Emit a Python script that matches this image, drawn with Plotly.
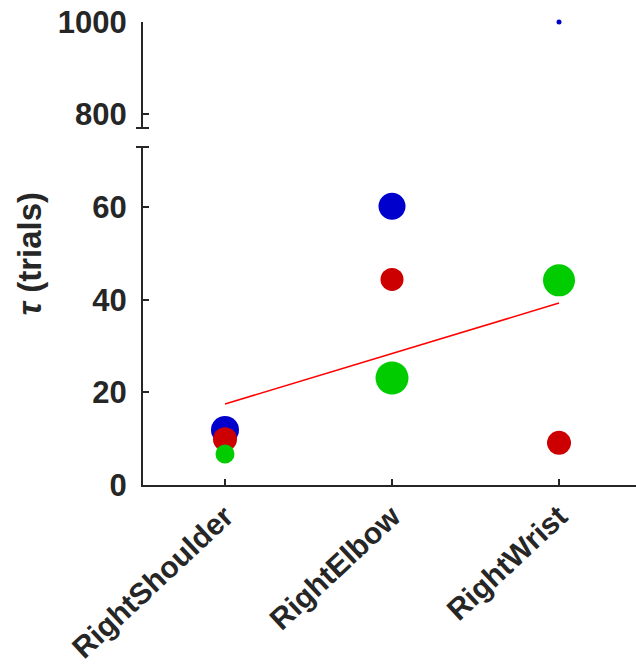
import plotly.graph_objects as go

joints = ["RightShoulder", "RightElbow", "RightWrist"]

blue_tau = [11.9, 60.2, 1000.0]
red_tau = [9.9, 44.4, 9.1]
green_tau = [6.7, 23.1, 44.2]

blue_size = [28, 27, 5]
red_size = [24, 23, 24]
green_size = [19, 33, 32]

trend_x = ["RightShoulder", "RightWrist"]
trend_y = [17.5, 39.3]

low_ticks = [0, 20, 40, 60]
high_ticks = [800, 1000]

AX = "#262626"
FONT = dict(family="Liberation Sans, Arial, sans-serif", size=31, color=AX, weight="bold")
XFONT = dict(family="Liberation Sans, Arial, sans-serif", size=30, color=AX, weight="bold")
TFONT = dict(family="Liberation Sans, Arial, sans-serif", size=33, color=AX, weight="bold")

fig = go.Figure()

def split(vals, sizes, high):
    xs, ys, ss = [], [], []
    for j, v, s in zip(joints, vals, sizes):
        if (v >= 700) == high:
            xs.append(j); ys.append(v); ss.append(s)
    return xs, ys, ss

series = [("blue", blue_tau, blue_size, "#0000CC"),
          ("red", red_tau, red_size, "#CC0000"),
          ("green", green_tau, green_size, "#00CC00")]

fig.add_trace(go.Scatter(x=trend_x, y=trend_y, mode="lines",
                         line=dict(color="#FF0000", width=1.5),
                         xaxis="x", yaxis="y", showlegend=False, hoverinfo="skip"))

for name, vals, sizes, col in series:
    for high, yax in ((False, "y"), (True, "y2")):
        xs, ys, ss = split(vals, sizes, high)
        if xs:
            fig.add_trace(go.Scatter(x=xs, y=ys, mode="markers",
                                     marker=dict(color=col, size=ss, opacity=1,
                                                 line=dict(width=0)),
                                     opacity=1,
                                     xaxis="x", yaxis=yax, showlegend=False,
                                     cliponaxis=False, name=name))

H = 463.0
low_top = (485 - 147) / H
high_bot = (485 - 128) / H

fig.update_layout(
    width=636, height=667,
    margin=dict(l=143, r=0, t=22, b=182, autoexpand=False),
    paper_bgcolor="white", plot_bgcolor="white",
    showlegend=False,
    xaxis=dict(type="category", categoryorder="array", categoryarray=joints,
               range=[-0.491, 2.461], showline=True, linecolor=AX, linewidth=2,
               ticks="inside", ticklen=6, tickwidth=2, tickcolor=AX,
               tickangle=-43, tickfont=XFONT, showgrid=False, zeroline=False,
               anchor="y", fixedrange=True, automargin=False),
    yaxis=dict(domain=[0, low_top], range=[0, 73], tickvals=low_ticks,
               showline=True, linecolor=AX, linewidth=2,
               ticks="inside", ticklen=6, tickwidth=2, tickcolor=AX,
               tickfont=FONT, showgrid=False, zeroline=False, anchor="x",
               ticklabelstandoff=8, automargin=False),
    yaxis2=dict(domain=[high_bot, 1], range=[770, 1000], tickvals=high_ticks,
                showline=True, linecolor=AX, linewidth=2,
                ticks="inside", ticklen=6, tickwidth=2, tickcolor=AX,
                tickfont=FONT, showgrid=False, zeroline=False, anchor="x",
                ticklabelstandoff=8, automargin=False),
)

# axis-break markers
for yv in (low_top, high_bot):
    fig.add_shape(type="line", xref="paper", yref="paper",
                  x0=-7 / 493, x1=6 / 493, y0=yv, y1=yv,
                  line=dict(color=AX, width=2))

fig.add_annotation(text="<i>τ</i> (trials)", xref="paper", yref="paper",
                   x=0, y=0.5, xshift=-114, yshift=0, xanchor="center", yanchor="middle",
                   textangle=-90, showarrow=False, font=TFONT)

fig.write_html("out.html")
